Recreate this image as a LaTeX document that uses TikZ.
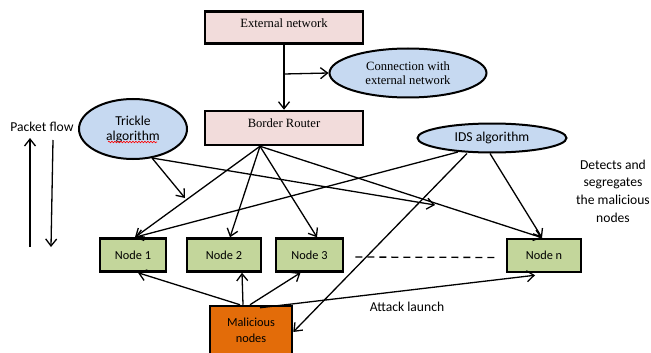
\documentclass[tikz,border=0pt]{standalone}
\usepackage{fontspec}
\setmainfont{Carlito}
\newfontfamily\tnrfont{Liberation Serif}
\usetikzlibrary{positioning,arrows.meta,calc,shapes.geometric,decorations.pathmorphing}
\definecolor{boxpink}{HTML}{F2DCDB}
\definecolor{algblue}{HTML}{C6D9F1}
\definecolor{nodegreen}{HTML}{C3D69B}
\definecolor{malorange}{HTML}{E36C09}
\tikzset{
  conn/.style={-{Straight Barb[length=7pt,width=11pt]},line width=1.3pt},
  netbox/.style={draw,line width=2.5pt,fill=boxpink,minimum width=158pt,text depth=9pt,
    font=\tnrfont\fontsize{12.6}{15}\selectfont},
  algo/.style={ellipse,draw,line width=2pt,fill=algblue,inner sep=0pt,align=center},
  snode/.style={draw,line width=2.5pt,fill=nodegreen,minimum height=33pt,
    font=\fontsize{12.3}{15}\selectfont},
  lbl/.style={font=\fontsize{13.6}{17.7}\selectfont,align=center},
}
\begin{document}
\begin{tikzpicture}[x=1pt,y=-1pt]
  \useasboundingbox (0,0) rectangle (651,353);
  % boxes of the network
  \node[netbox,minimum height=32pt] (ext) at (284,27.5) {External network};
  \node[netbox,minimum height=34pt] (br) at (284,128) {Border Router};
  \node[algo,minimum width=157pt,minimum height=49pt,
    font=\tnrfont\fontsize{12.6}{14}\selectfont] (cwe) at (408,73)
    {Connection with\\external network};
  \node[algo,minimum width=108pt,minimum height=60pt,font=\fontsize{13.6}{15}\selectfont]
    (trk) at (133,129) {Trickle\\algorithm};
  \node[algo,minimum width=149pt,minimum height=29pt,font=\fontsize{13.6}{15}\selectfont]
    (ids) at (492,138) {IDS algorithm};
  % sensor nodes
  \node[snode,minimum width=66pt] (n1) at (133,255) {Node 1};
  \node[snode,minimum width=74pt] (n2) at (224,255) {Node 2};
  \node[snode,minimum width=67pt] (n3) at (309.5,255) {Node 3};
  \node[snode,minimum width=74pt] (nn) at (544,255.5) {Node n};
  \node[draw,line width=2.5pt,fill=malorange,minimum width=82pt,minimum height=48pt,
    align=center,font=\fontsize{12.3}{16}\selectfont] (mal) at (251,330) {Malicious\\nodes};
  % free labels
  \node[lbl] (pf) at (42,127) {Packet flow};
  \node[lbl] (atk) at (407,307) {Attack launch};
  \node[lbl] (det) at (613,191) {Detects and\\segregates\\the malicious\\nodes};
  % spell-check underline
  \draw[red,line width=0.6pt,decorate,decoration={snake,amplitude=0.8pt,segment length=3pt}]
    (108,142) -- (157,142);
  % external network -> router, branch to ellipse
  \draw[conn] (ext) -- (br);
  \coordinate (brk) at ($(ext.south)!0.45!(br.north)$);
  \draw[conn] (brk) -- (cwe.west);
  % router fan-out
  \coordinate (brfan) at ([xshift=-24pt]br.south);
  \draw[conn] (brfan) -- ([xshift=2pt]n1.north);
  \draw[conn] (brfan) -- ([xshift=6pt]n2.north);
  \draw[conn] (brfan) -- ([xshift=7.5pt]n3.north);
  \draw[conn] (brfan) -- ([xshift=-2pt]nn.north);
  % trickle
  \coordinate (trkout) at ([xshift=19pt,yshift=2pt]trk.south);
  \coordinate (trk1) at (185,198);
  \coordinate (trk2) at (435,205);
  \draw[conn] (trkout) -- (trk1);
  \draw[conn] (trkout) -- (trk2);
  % ids
  \draw[conn] ([xshift=-34pt,yshift=1.5pt]ids.south) -- ([xshift=2pt]n1.north);
  \draw[conn] ([xshift=-25pt]ids.south) -- ([yshift=-2pt]mal.east);
  \draw[conn] ([xshift=-2pt]ids.south) -- ([xshift=-2pt]nn.north);
  % attack launch
  \draw[conn] ([xshift=-11pt]mal.north) -- ([xshift=5pt]n1.south);
  \draw[conn] ([xshift=-8pt]mal.north) -- ([xshift=18pt]n2.south);
  \draw[conn] ([xshift=-1pt]mal.north) -- ([xshift=-9pt]n3.south);
  \draw[conn] ([xshift=9pt,yshift=-3pt]mal.north) -- ([xshift=-9pt,yshift=-2pt]nn.south);
  \draw[line width=1.3pt,dashed,dash pattern=on 7pt off 5pt,shorten <=11pt,shorten >=11pt]
    ([yshift=-2pt]n3.east) -- ([yshift=-2pt]nn.west);
  % packet flow arrows
  \coordinate (pfa) at (30,247);
  \coordinate (pfb) at (30,138);
  \coordinate (pfc) at (53,140);
  \coordinate (pfd) at (51,247);
  \draw[conn] (pfa) -- (pfb);
  \draw[conn] (pfc) -- (pfd);
\end{tikzpicture}
\end{document}
